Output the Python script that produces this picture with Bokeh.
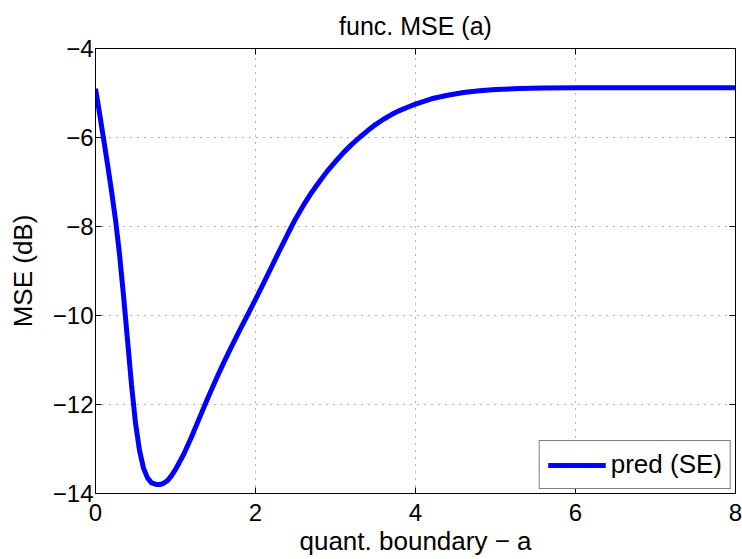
from bokeh.plotting import figure
from bokeh.models import LinearAxis, FixedTicker, Range1d, Legend, LegendItem
from bokeh.embed import file_html
from bokeh.resources import INLINE

# data
a_vals = [0.0, 0.05, 0.1, 0.15, 0.2, 0.25, 0.3, 0.35, 0.4, 0.45, 0.5, 0.55,
          0.6, 0.65, 0.7, 0.77, 0.8, 0.85, 0.9, 0.95, 1.0, 1.1, 1.2, 1.3, 1.4, 1.5,
          1.6, 1.7, 1.8, 1.9, 2.0, 2.1, 2.2, 2.3, 2.4, 2.5, 2.6, 2.7,
          2.8, 2.9, 3.0, 3.1, 3.2, 3.3, 3.4, 3.5, 3.6, 3.7, 3.8, 3.9,
          4.0, 4.2, 4.4, 4.6, 4.8, 5.0, 5.3, 5.6, 6.0, 7.0, 8.0]
mse_db = [-4.90, -5.45, -6.02, -6.60, -7.20, -7.85, -8.62, -9.55, -10.55, -11.55, -12.42, -13.03,
          -13.43, -13.65, -13.76, -13.80, -13.80, -13.77, -13.71, -13.60, -13.46, -13.13, -12.73, -12.30, -11.87, -11.46,
          -11.07, -10.70, -10.34, -9.99, -9.64, -9.28, -8.91, -8.54, -8.18, -7.83, -7.52, -7.24,
          -6.99, -6.75, -6.54, -6.34, -6.16, -6.00, -5.85, -5.71, -5.59, -5.485, -5.395, -5.32,
          -5.25, -5.13, -5.05, -4.99, -4.95, -4.92, -4.90, -4.89, -4.88, -4.88, -4.88]

x_ticks = [0, 2, 4, 6, 8]
y_ticks = [-14, -12, -10, -8, -6, -4]
y_tick_labels = {t: ("\u2212" + str(-t)) if t < 0 else str(t) for t in y_ticks}

FONT = "Liberation Sans"

p = figure(frame_width=640, frame_height=445,
           x_range=Range1d(0, 8), y_range=Range1d(-14, -4),
           output_backend="svg", toolbar_location=None,
           min_border_left=95, min_border_right=7, min_border_top=47, min_border_bottom=67,
           title="func. MSE (a)")

p.title.align = "center"
p.title.text_font = FONT
p.title.text_font_size = "25px"
p.title.text_font_style = "normal"
p.title.text_color = "black"
p.title.standoff = 18

line = p.line(a_vals, mse_db, line_color="#0000ff", line_width=5)

for ax in (p.xaxis[0], p.yaxis[0]):
    ax.major_tick_in = 6
    ax.major_tick_out = 0
    ax.minor_tick_line_color = None
    ax.axis_line_color = "black"
    ax.major_tick_line_color = "black"
    ax.major_label_text_font = FONT
    ax.major_label_text_font_size = "24px"
    ax.major_label_text_color = "black"
    ax.axis_label_text_font = FONT
    ax.axis_label_text_font_size = "26px"
    ax.axis_label_text_font_style = "normal"
    ax.axis_label_text_color = "black"

p.xaxis[0].ticker = FixedTicker(ticks=x_ticks)
p.yaxis[0].ticker = FixedTicker(ticks=y_ticks)
p.yaxis[0].major_label_overrides = y_tick_labels
p.xaxis[0].axis_label = "quant. boundary \u2212 a"
p.yaxis[0].axis_label = "MSE (dB)"
p.xaxis[0].major_label_standoff = 10
p.xaxis[0].axis_label_standoff = 2
p.yaxis[0].major_label_standoff = 2
p.yaxis[0].axis_label_standoff = 12

for loc, ticks in (("above", x_ticks), ("right", y_ticks)):
    ax = LinearAxis(ticker=FixedTicker(ticks=ticks))
    ax.major_tick_in = 6
    ax.major_tick_out = 0
    ax.minor_tick_line_color = None
    ax.major_label_text_font_size = "0px"
    ax.major_label_standoff = 0
    ax.axis_line_color = "black"
    ax.major_tick_line_color = "black"
    p.add_layout(ax, loc)

p.outline_line_color = "black"
p.outline_line_width = 1

p.xgrid[0].ticker = FixedTicker(ticks=x_ticks)
p.ygrid[0].ticker = FixedTicker(ticks=y_ticks)
for g in (p.xgrid[0], p.ygrid[0]):
    g.grid_line_color = "#666666"
    g.grid_line_dash = "1 6"
    g.grid_line_width = 1

legend = Legend(items=[LegendItem(label="pred (SE)", renderers=[line])],
                location="bottom_right")
legend.label_text_font = FONT
legend.label_text_font_size = "26px"
legend.label_text_color = "black"
legend.glyph_width = 58
legend.glyph_height = 22
legend.label_height = 22
legend.label_standoff = 5
legend.padding = 8
legend.margin = 4
legend.border_line_color = "black"
legend.border_line_width = 1
legend.background_fill_alpha = 1
p.add_layout(legend, "center")

open("out.html", "w").write(file_html(p, INLINE))
